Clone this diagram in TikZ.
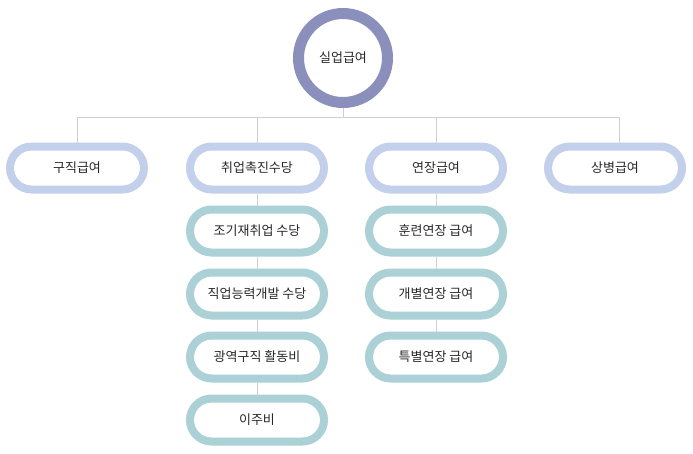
\documentclass[tikz,border=0pt]{standalone}
\usepackage{fontspec}
\setmainfont{Noto Sans CJK KR}
\definecolor{ringcol}{RGB}{138,143,188}
\definecolor{topcol}{RGB}{195,208,236}
\definecolor{subcol}{RGB}{171,208,214}
\definecolor{linkcol}{RGB}{208,208,208}
\definecolor{textcol}{RGB}{40,40,40}
\begin{document}
\begin{tikzpicture}[x=1pt,y=-1pt,
    root node/.style={circle,draw=ringcol,line width=11pt,fill=white,minimum size=89pt,inner sep=0pt,text=textcol,font=\fontsize{13}{15}\selectfont},
    main node/.style={rectangle,rounded corners=21.5pt,draw=topcol,line width=8pt,fill=white,minimum width=134pt,minimum height=43pt,inner sep=0pt,text=textcol,font=\fontsize{13}{15}\selectfont},
    sub node/.style={main node,draw=subcol},
    link/.style={draw=linkcol,line width=1pt}]
        \useasboundingbox (0,0) rectangle (693,453);

        \node[root node] at (343, 58) (benefit) {실업급여};

        \node[main node] at (77, 168) (jobseek) {구직급여};
        \node[main node] at (257, 168) (promote) {취업촉진수당};
        \node[main node] at (436, 168) (extend) {연장급여};
        \node[main node] at (615, 168) (sick) {상병급여};

        \node[sub node] at (257, 231) (early) {조기재취업 수당};
        \node[sub node] at (257, 294) (skill) {직업능력개발 수당};
        \node[sub node] at (257, 357) (wide) {광역구직 활동비};
        \node[sub node] at (257, 420) (move) {이주비};

        \node[sub node] at (436, 231) (train) {훈련연장 급여};
        \node[sub node] at (436, 294) (indiv) {개별연장 급여};
        \node[sub node] at (436, 357) (special) {특별연장 급여};

        \coordinate (busL) at (77, 117);
        \coordinate (busR) at (619, 117);

        \begin{scope}[on background layer/.try]
        \path[link]
            (busL) edge (busR)
            (benefit) edge (benefit |- busL)
            (jobseek.north) edge (jobseek.north |- busL)
            (promote.north) edge (promote.north |- busL)
            (extend.north) edge (extend.north |- busL)
            (busR |- sick.north) edge (busR)
            (promote) edge (early)
            (early) edge (skill)
            (skill) edge (wide)
            (wide) edge (move)
            (extend) edge (train)
            (train) edge (indiv)
            (indiv) edge (special)
            ;
        \end{scope}
\end{tikzpicture}
\end{document}
